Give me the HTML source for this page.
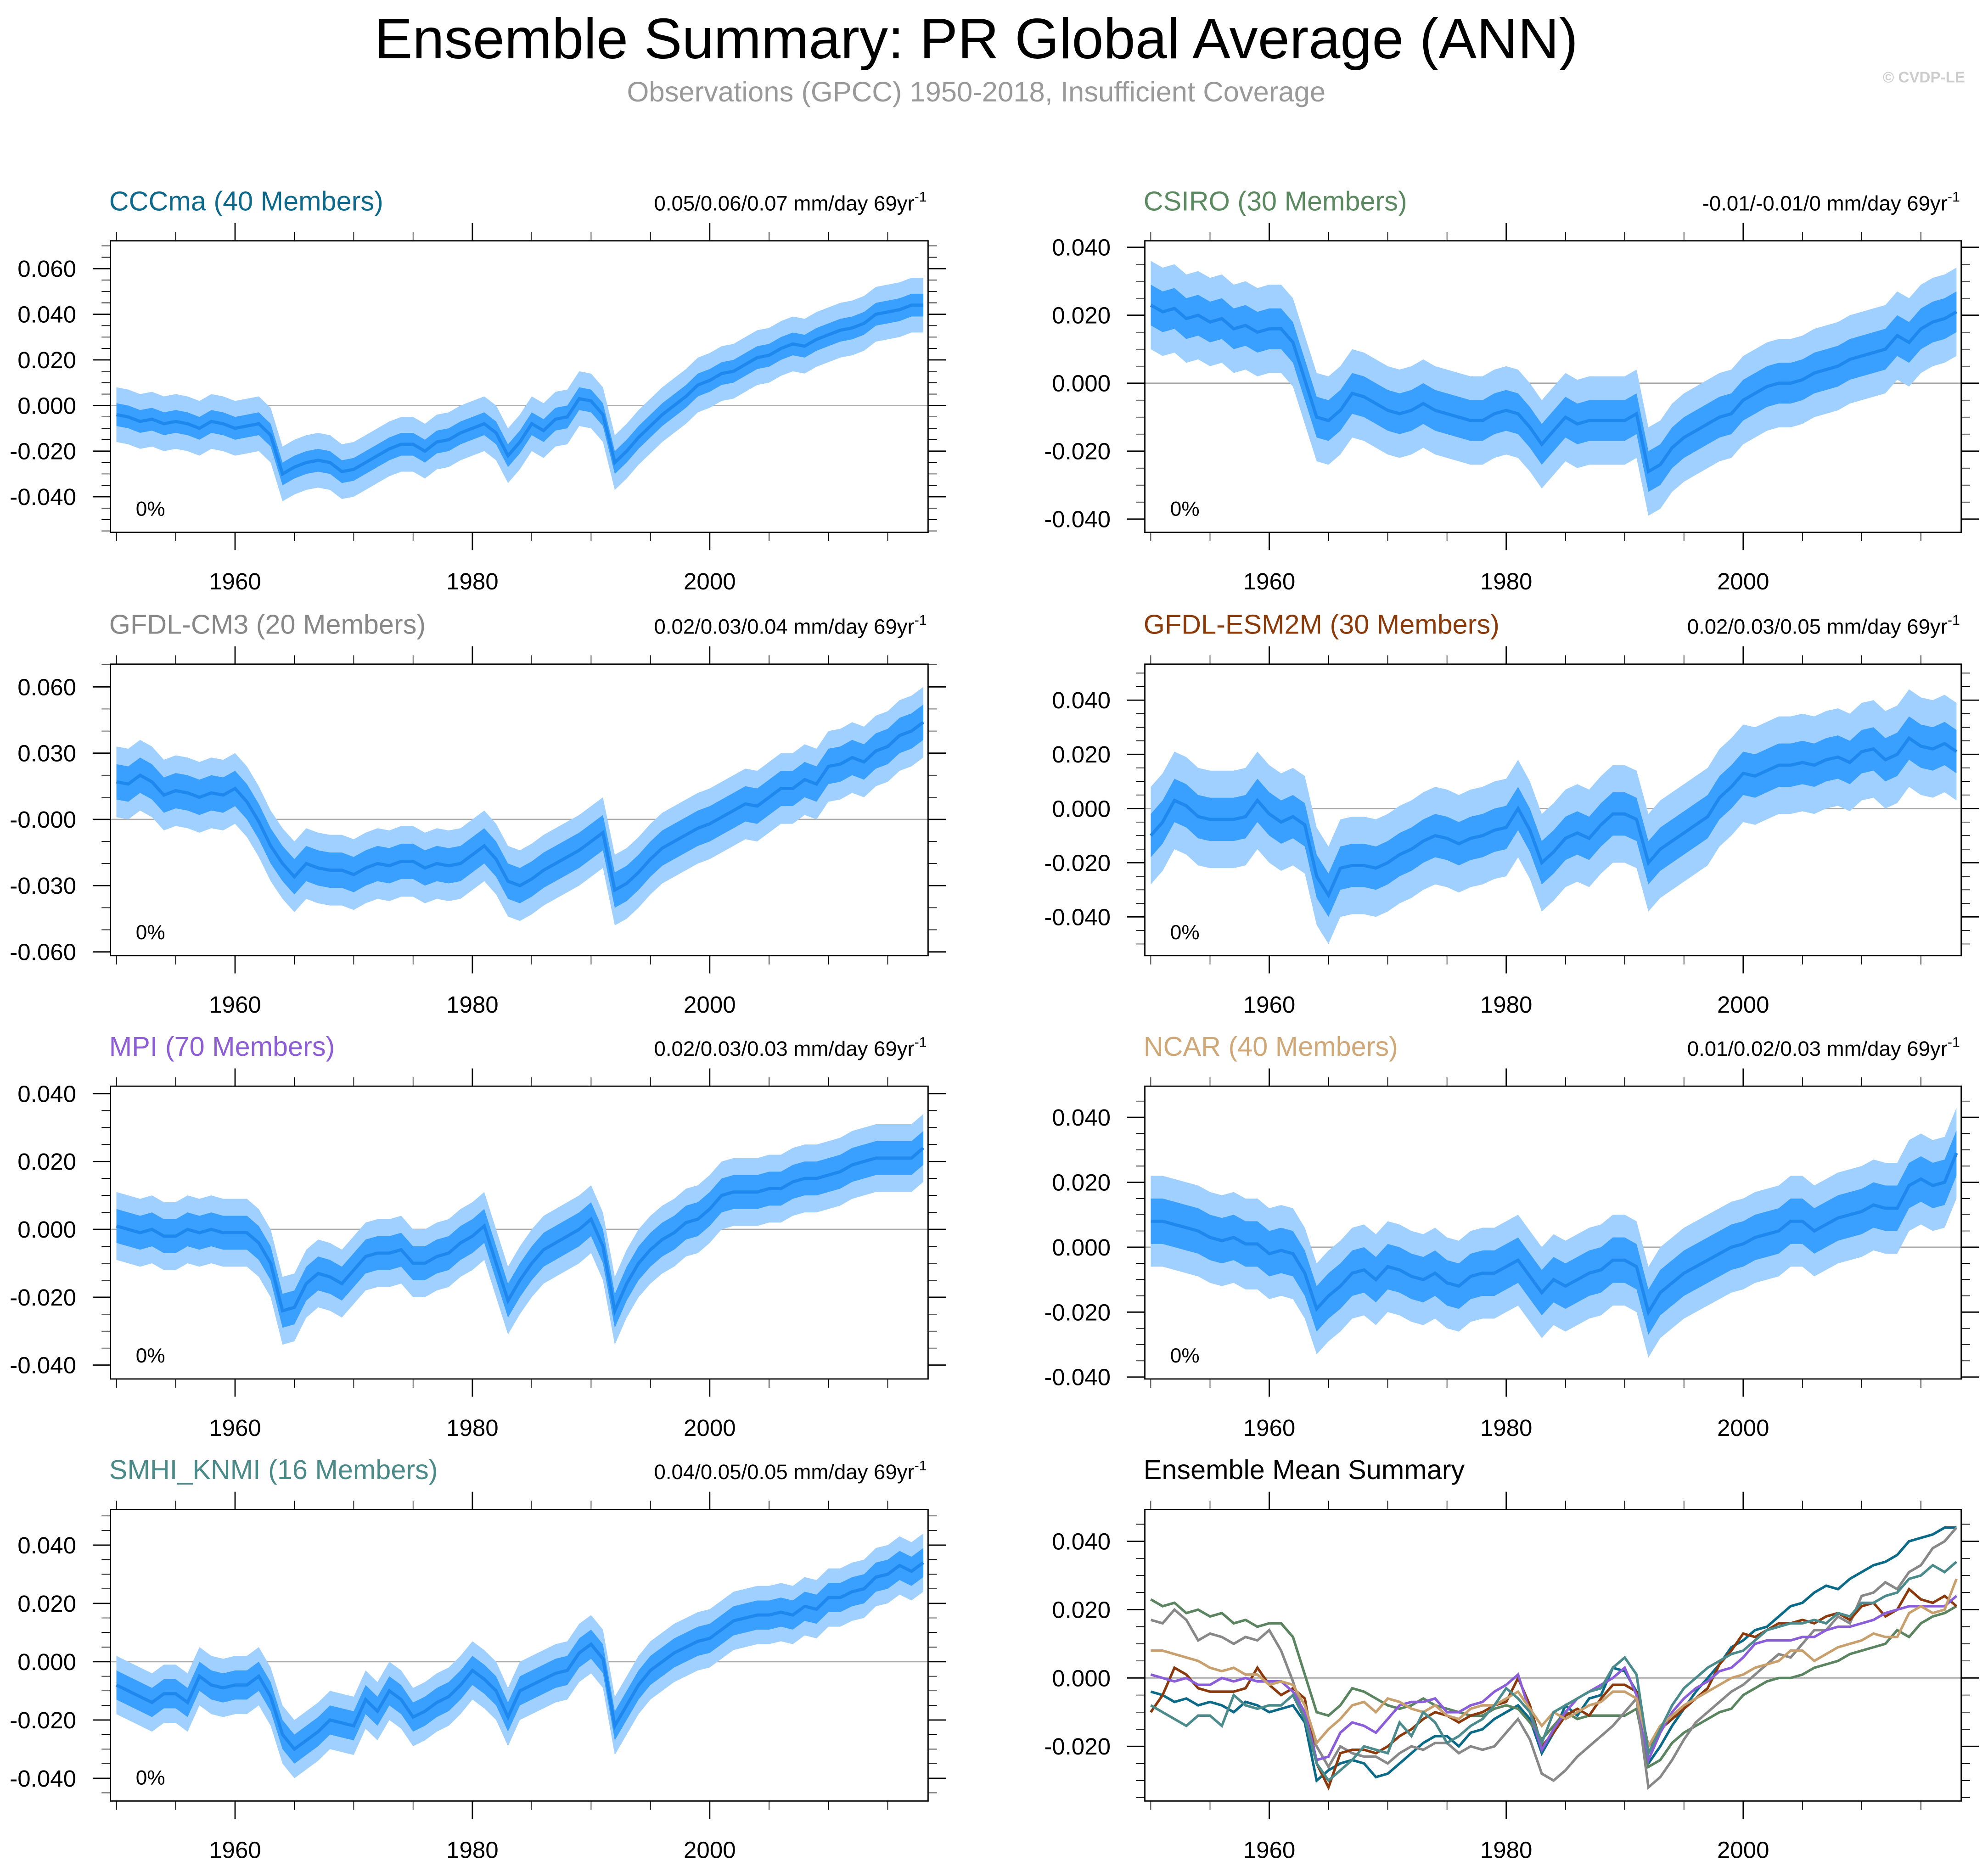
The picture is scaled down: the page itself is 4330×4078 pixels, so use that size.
<!DOCTYPE html>
<html><head><meta charset="utf-8">
<style>
html,body{margin:0;padding:0;background:#fff;}
svg{display:block;font-family:"Liberation Sans",sans-serif;}
</style></head>
<body>
<svg id="chart" width="4330" height="4078" viewBox="0 0 1568 1477" xmlns="http://www.w3.org/2000/svg">
<text x="770" y="46" font-size="45" text-anchor="middle" fill="#000">Ensemble Summary: PR Global Average (ANN)</text>
<text x="770" y="80" font-size="22.3" text-anchor="middle" fill="#999">Observations (GPCC) 1950-2018, Insufficient Coverage</text>
<text x="1550" y="65" font-size="12" text-anchor="end" fill="#ccc" font-weight="bold">© CVDP-LE</text>
</svg>
<script>
const years = [];
for (let y = 1950; y <= 2018; y++) years.push(y);

const cccmaMean = [-0.004,-0.005,-0.007,-0.006,-0.008,-0.007,-0.008,-0.010,-0.007,-0.008,
-0.010,-0.009,-0.008,-0.013,-0.030,-0.027,-0.025,-0.024,-0.025,-0.029,
-0.028,-0.025,-0.022,-0.019,-0.017,-0.017,-0.020,-0.016,-0.015,-0.012,
-0.010,-0.008,-0.012,-0.022,-0.016,-0.008,-0.011,-0.006,-0.005,0.003,
0.002,-0.004,-0.025,-0.020,-0.014,-0.009,-0.004,0.000,0.004,0.009,
0.011,0.014,0.015,0.018,0.021,0.022,0.025,0.027,0.026,0.029,
0.031,0.033,0.034,0.036,0.040,0.041,0.042,0.044,0.044];
const csiroMean = [0.023,0.021,0.022,0.019,0.020,0.018,0.019,0.016,0.017,0.015,
0.016,0.016,0.012,0.001,-0.010,-0.011,-0.008,-0.003,-0.004,-0.006,
-0.008,-0.009,-0.008,-0.006,-0.008,-0.009,-0.010,-0.011,-0.011,-0.009,
-0.008,-0.009,-0.013,-0.018,-0.014,-0.010,-0.012,-0.011,-0.011,-0.011,
-0.011,-0.009,-0.026,-0.024,-0.019,-0.016,-0.014,-0.012,-0.010,-0.009,
-0.005,-0.003,-0.001,0.000,0.000,0.001,0.003,0.004,0.005,0.007,
0.008,0.009,0.010,0.014,0.012,0.016,0.018,0.019,0.021];
const cm3Mean = [0.017,0.016,0.020,0.017,0.011,0.013,0.012,0.010,0.012,0.011,
0.014,0.008,-0.001,-0.012,-0.020,-0.026,-0.020,-0.022,-0.023,-0.023,
-0.025,-0.022,-0.020,-0.021,-0.019,-0.019,-0.022,-0.020,-0.021,-0.020,
-0.016,-0.012,-0.018,-0.028,-0.030,-0.027,-0.023,-0.020,-0.017,-0.014,
-0.010,-0.006,-0.032,-0.029,-0.024,-0.018,-0.013,-0.010,-0.007,-0.004,
-0.002,0.001,0.004,0.007,0.006,0.010,0.014,0.014,0.018,0.016,
0.024,0.025,0.028,0.026,0.031,0.033,0.038,0.040,0.044];
const esm2mMean = [-0.010,-0.005,0.003,0.001,-0.003,-0.004,-0.004,-0.004,-0.003,0.003,
-0.002,-0.005,-0.003,-0.006,-0.025,-0.032,-0.022,-0.021,-0.021,-0.022,
-0.020,-0.017,-0.015,-0.012,-0.010,-0.011,-0.013,-0.011,-0.010,-0.008,
-0.007,0.000,-0.008,-0.020,-0.016,-0.011,-0.009,-0.011,-0.006,-0.002,
-0.002,-0.004,-0.020,-0.015,-0.012,-0.009,-0.006,-0.003,0.004,0.008,
0.013,0.012,0.014,0.016,0.016,0.017,0.016,0.018,0.019,0.017,
0.021,0.022,0.018,0.020,0.026,0.023,0.022,0.024,0.021];
const mpiMean = [0.001,0.000,-0.001,0.000,-0.002,-0.002,0.000,-0.001,0.000,-0.001,
-0.001,-0.001,-0.004,-0.010,-0.024,-0.023,-0.016,-0.013,-0.014,-0.016,
-0.012,-0.008,-0.007,-0.007,-0.006,-0.010,-0.010,-0.008,-0.007,-0.004,
-0.002,0.001,-0.010,-0.021,-0.015,-0.010,-0.006,-0.004,-0.002,0.000,
0.003,-0.005,-0.024,-0.016,-0.010,-0.006,-0.003,-0.001,0.002,0.003,
0.006,0.010,0.011,0.011,0.011,0.012,0.012,0.014,0.015,0.015,
0.016,0.017,0.019,0.020,0.021,0.021,0.021,0.021,0.024];
const ncarMean = [0.008,0.008,0.007,0.006,0.005,0.003,0.002,0.003,0.001,0.001,
-0.002,-0.001,-0.002,-0.008,-0.019,-0.015,-0.012,-0.008,-0.007,-0.010,
-0.006,-0.007,-0.009,-0.010,-0.008,-0.011,-0.012,-0.009,-0.008,-0.008,
-0.006,-0.004,-0.009,-0.014,-0.010,-0.012,-0.010,-0.008,-0.007,-0.004,
-0.004,-0.006,-0.020,-0.014,-0.011,-0.008,-0.006,-0.004,-0.002,0.000,
0.001,0.003,0.004,0.005,0.008,0.008,0.005,0.007,0.009,0.010,
0.011,0.013,0.012,0.012,0.019,0.021,0.019,0.020,0.029];
const smhiMean = [-0.008,-0.010,-0.012,-0.014,-0.011,-0.011,-0.014,-0.005,-0.008,-0.009,
-0.008,-0.008,-0.005,-0.012,-0.025,-0.030,-0.027,-0.024,-0.020,-0.021,
-0.022,-0.013,-0.017,-0.010,-0.013,-0.019,-0.017,-0.014,-0.012,-0.008,
-0.003,-0.006,-0.010,-0.019,-0.010,-0.008,-0.006,-0.004,-0.003,0.003,
0.006,0.001,-0.022,-0.015,-0.008,-0.003,0.000,0.003,0.005,0.007,
0.008,0.011,0.014,0.015,0.016,0.016,0.017,0.016,0.019,0.018,
0.022,0.022,0.024,0.025,0.029,0.030,0.033,0.031,0.034];

const innerSpread = [0.005,0.006,0.008,0.008,0.005,0.007,0.005];
const outerSpread = [0.012,0.013,0.016,0.018,0.010,0.014,0.010];
const trendLabels = ["0.05/0.06/0.07","-0.01/-0.01/0","0.02/0.03/0.04","0.02/0.03/0.05","0.02/0.03/0.03","0.01/0.02/0.03","0.04/0.05/0.05"];
const modelNames = ["CCCma (40 Members)","CSIRO (30 Members)","GFDL-CM3 (20 Members)","GFDL-ESM2M (30 Members)","MPI (70 Members)","NCAR (40 Members)","SMHI_KNMI (16 Members)"];
const yTicks0 = [-0.04,-0.02,0,0.02,0.04,0.06];
const yTicks1 = [-0.04,-0.02,0,0.02,0.04];
const yTicks2 = [-0.06,-0.03,0,0.03,0.06];
const yTicks7 = [-0.02,0,0.02,0.04];
const xTickLabels = [1960,1980,2000];

const allMeans=[cccmaMean,csiroMean,cm3Mean,esm2mMean,mpiMean,ncarMean,smhiMean];
const titleColors=["#0d6a8c","#5b8a60","#888888","#8b3a0a","#8e5ed6","#d0a878","#4a8a88"];
const lineColors=["#0b6a88","#5a8560","#888888","#8b3a0e","#8a5ed8","#c8a06e","#4b8b8b"];
const yTickSets=[yTicks0,yTicks1,yTicks2,yTicks1,yTicks1,yTicks1,yTicks1,yTicks7];
const tickFmt=[v=>v.toFixed(3),v=>v.toFixed(3),v=>(v===0?"-0.000":v.toFixed(3)),v=>v.toFixed(3),v=>v.toFixed(3),v=>v.toFixed(3),v=>v.toFixed(3),v=>v.toFixed(3)];
const minorStep=[0.005,0.005,0.01,0.005,0.005,0.005,0.005,0.005];
const panels=[
 {x0:87,x1:732,y0:190,y1:420,vmin:-0.0556,vmax:0.0722},
 {x0:903,x1:1547,y0:190,y1:420,vmin:-0.0439,vmax:0.0419},
 {x0:87,x1:732,y0:524,y1:754,vmin:-0.0617,vmax:0.0703},
 {x0:903,x1:1547,y0:524,y1:754,vmin:-0.0543,vmax:0.0533},
 {x0:87,x1:732,y0:857,y1:1088,vmin:-0.0441,vmax:0.0422},
 {x0:903,x1:1547,y0:857,y1:1088,vmin:-0.0406,vmax:0.0496},
 {x0:87,x1:732,y0:1191,y1:1421,vmin:-0.0478,vmax:0.0522},
 {x0:903,x1:1547,y0:1191,y1:1421,vmin:-0.036,vmax:0.0493}
];
const NS="http://www.w3.org/2000/svg";
const svg=document.getElementById('chart');
function mk(tag,attrs,parent){const e=document.createElementNS(NS,tag);for(const k in attrs)e.setAttribute(k,attrs[k]);(parent||svg).appendChild(e);return e;}

panels.forEach((p,i)=>{
  const g=mk('g',{});
  
  
  const xs=y=>p.x0+(y-1949.5)/(2018.4-1949.5)*(p.x1-p.x0);
  const ys=v=>p.y1-(v-p.vmin)/(p.vmax-p.vmin)*(p.y1-p.y0);
  const t=mk('text',{x:p.x0-1,y:p.y0-24,'font-size':21.5,fill:i<7?titleColors[i]:'#000'},g);
  t.textContent=i<7?modelNames[i]:'Ensemble Mean Summary';
  
  
  if(i<7){
    const r=mk('text',{x:p.x1-1,y:p.y0-24,'font-size':16.5,'text-anchor':'end',fill:'#000'},g);
    
    
    r.textContent=trendLabels[i]+' mm/day 69yr';
    const s=mk('tspan',{'font-size':11,dy:-7},r); s.textContent='-1';
    const pc=mk('text',{x:p.x0+20,y:p.y1-13,'font-size':16,fill:'#000'},g);
    pc.textContent='0%';
    
    
  }
  const zl=mk('line',{x1:p.x0,x2:p.x1,y1:ys(0),y2:ys(0),stroke:'#aaa','stroke-width':1},g);
  
  
  if(i<7){
    const m=allMeans[i];
    const band=(w)=>{let up=years.map((y,k)=>xs(y)+','+ys(m[k]+w)).join(' ');let dn=years.slice().reverse().map((y,k)=>xs(y)+','+ys(m[m.length-1-k]-w)).join(' ');return up+' '+dn;};
    const o=mk('polygon',{points:band(outerSpread[i]),fill:'#a0d0ff'},g);
    
    
    const n=mk('polygon',{points:band(innerSpread[i]),fill:'#3aa0ff'},g);
    
    
    const l=mk('polyline',{points:years.map((y,k)=>xs(y)+','+ys(m[k])).join(' '),fill:'none',stroke:'#1e88ee','stroke-width':2.5},g);
    
    
  } else {
    allMeans.forEach((m,j)=>{
      const l=mk('polyline',{points:years.map((y,k)=>xs(y)+','+ys(m[k])).join(' '),fill:'none',stroke:lineColors[j],'stroke-width':2},g);
      
      
    });
  }
  const b=mk('rect',{x:p.x0,y:p.y0,width:p.x1-p.x0,height:p.y1-p.y0,fill:'none',stroke:'#000','stroke-width':1},g);
  
  
  for(let y=1950;y<=2015;y+=5){
    const maj=(y%20===0);const L=maj?14:7;const x=xs(y);
    mk('line',{x1:x,x2:x,y1:p.y1,y2:p.y1+L,stroke:'#000','stroke-width':maj?1:0.6},g);
    mk('line',{x1:x,x2:x,y1:p.y0,y2:p.y0-L,stroke:'#000','stroke-width':maj?1:0.6},g);
  }
  xTickLabels.forEach(y=>{
    const tl=mk('text',{x:xs(y),y:p.y1+45,'font-size':18.5,'text-anchor':'middle',fill:'#000'},g);
    tl.textContent=y;
    
    
  });
  const st=minorStep[i];
  for(let v=Math.ceil(p.vmin/st)*st;v<=p.vmax+1e-9;v+=st){
    const yy=ys(v);
    mk('line',{x1:p.x0,x2:p.x0-7,y1:yy,y2:yy,stroke:'#000','stroke-width':0.6},g);
    mk('line',{x1:p.x1,x2:p.x1+7,y1:yy,y2:yy,stroke:'#000','stroke-width':0.6},g);
  }
  yTickSets[i].forEach(v=>{
    const yy=ys(v);
    mk('line',{x1:p.x0,x2:p.x0-14,y1:yy,y2:yy,stroke:'#000','stroke-width':1},g);
    mk('line',{x1:p.x1,x2:p.x1+14,y1:yy,y2:yy,stroke:'#000','stroke-width':1},g);
    const tl=mk('text',{x:p.x0-27,y:yy+6.5,'font-size':18.5,'text-anchor':'end',fill:'#000'},g);
    tl.textContent=tickFmt[i](v);
    
    
  });
});
</script>
</body></html>
